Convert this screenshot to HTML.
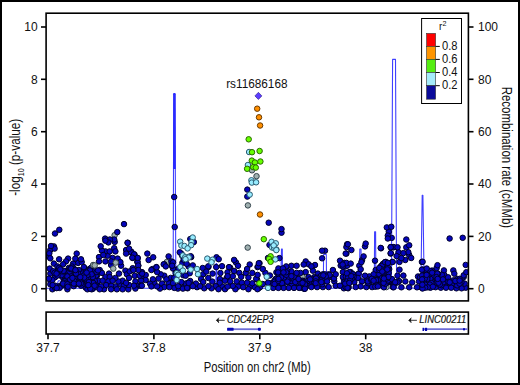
<!DOCTYPE html>
<html><head><meta charset="utf-8"><style>
html,body{margin:0;padding:0;background:#fff;}
body{width:520px;height:385px;overflow:hidden;position:relative;}
svg{position:absolute;left:0;top:0;}
text{font-family:"Liberation Sans",sans-serif;fill:#111;}
</style></head><body>
<svg width="520" height="385" viewBox="0 0 520 385">
<rect x="0" y="0" width="520" height="385" fill="#fff"/>
<!-- outer border -->
<rect x="1" y="1" width="518" height="383" fill="none" stroke="#000" stroke-width="2"/>

<!-- y axis ticks left -->
<g stroke="#000" stroke-width="1.6">
<line x1="41" y1="27" x2="46" y2="27"/>
<line x1="41" y1="79.3" x2="46" y2="79.3"/>
<line x1="41" y1="131.7" x2="46" y2="131.7"/>
<line x1="41" y1="184" x2="46" y2="184"/>
<line x1="41" y1="236.4" x2="46" y2="236.4"/>
<line x1="41" y1="288.7" x2="46" y2="288.7"/>
<line x1="468" y1="27" x2="473.5" y2="27"/>
<line x1="468" y1="79.3" x2="473.5" y2="79.3"/>
<line x1="468" y1="131.7" x2="473.5" y2="131.7"/>
<line x1="468" y1="184" x2="473.5" y2="184"/>
<line x1="468" y1="236.4" x2="473.5" y2="236.4"/>
<line x1="468" y1="288.7" x2="473.5" y2="288.7"/>
<line x1="48" y1="334" x2="48" y2="339.3"/>
<line x1="153.9" y1="334" x2="153.9" y2="339.3"/>
<line x1="259.8" y1="334" x2="259.8" y2="339.3"/>
<line x1="365.7" y1="334" x2="365.7" y2="339.3"/>
</g>
<g font-size="12" text-anchor="end">
<text x="37.6" y="31.3">10</text>
<text x="37.6" y="83.6">8</text>
<text x="37.6" y="136">6</text>
<text x="37.6" y="188.3">4</text>
<text x="37.6" y="240.7">2</text>
<text x="37.6" y="293">0</text>
</g>
<g font-size="12" text-anchor="start">
<text x="478" y="31.3">100</text>
<text x="478" y="83.6">80</text>
<text x="478" y="136">60</text>
<text x="478" y="188.3">40</text>
<text x="478" y="240.7">20</text>
<text x="478" y="293">0</text>
</g>
<g font-size="12" text-anchor="middle">
<text x="48" y="352.3">37.7</text>
<text x="153.9" y="352.3">37.8</text>
<text x="259.8" y="352.3">37.9</text>
<text x="365.7" y="352.3">38</text>
</g>
<!-- axis titles -->
<text font-size="14" text-anchor="middle" transform="translate(257.2,371.6) scale(0.805,1)">Position on chr2 (Mb)</text>
<text font-size="14.5" text-anchor="middle" transform="translate(19.6,157.3) rotate(-90) scale(0.81,1)">-log<tspan font-size="8.8" dy="4.6">10</tspan><tspan dy="-4.6"> (p-value)</tspan></text>
<text font-size="15" text-anchor="middle" transform="translate(502.2,157.4) rotate(90) scale(0.765,1)">Recombination rate (cMMb)</text>

<!-- plot content -->
<g id="plot">
<defs><clipPath id="pc"><rect x="46" y="13" width="422.3" height="288"/></clipPath></defs>
<g clip-path="url(#pc)">
<path d="M46.0 288.2 L56.0 288.2 L58.3 280.8 L60.2 280.8 L62.0 288.2 L140.0 288.2 L173.1 288.2 L173.5 169.0 L173.8 93.6 L175.0 93.6 L175.3 169.0 L175.9 288.2 L215.9 288.2 L216.1 263.6 L216.7 263.6 L216.9 288.2 L280.6 288.2 L281.5 249.0 L282.3 249.0 L282.5 288.2 L323.3 288.2 L323.6 254.5 L326.3 254.5 L326.6 288.2 L341.2 288.2 L341.5 277.0 L342.0 288.2 L359.3 288.2 L359.8 249.0 L361.0 249.0 L361.7 288.2 L374.3 288.2 L374.6 231.8 L375.6 231.8 L375.9 288.2 L391.4 288.2 L392.6 59.4 L395.5 59.4 L396.6 288.2 L420.8 288.2 L422.2 195.2 L422.9 195.2 L424.2 288.2 L468.0 288.2" fill="none" stroke="#4040ff" stroke-width="1.1" stroke-linejoin="round"/><path d="M173.0 169 L173.25 94.2 Q174.4 92.0 175.55 94.2 L175.8 169 Z" fill="#2a2aff"/>
<g fill="#9fb0b0" stroke="#34444c" stroke-width="1.0">
<circle cx="114.6" cy="235.2" r="2.75"/>
<circle cx="166.8" cy="262.0" r="2.75"/>
<circle cx="302.4" cy="276.8" r="2.75"/>
<circle cx="386.4" cy="287.1" r="2.75"/>
</g>
<g fill="#0505bc" stroke="#000028" stroke-width="1.0">
<circle cx="385.8" cy="277.9" r="2.75"/>
<circle cx="432.5" cy="278.4" r="2.75"/>
<circle cx="128.3" cy="289.3" r="2.75"/>
<circle cx="114.7" cy="241.9" r="2.75"/>
<circle cx="81.9" cy="284.7" r="2.75"/>
<circle cx="362.1" cy="260.0" r="2.75"/>
<circle cx="382.0" cy="268.7" r="2.75"/>
<circle cx="290.1" cy="282.7" r="2.75"/>
<circle cx="389.2" cy="269.1" r="2.75"/>
<circle cx="340.7" cy="265.6" r="2.75"/>
<circle cx="94.2" cy="275.3" r="2.75"/>
<circle cx="115.4" cy="286.4" r="2.75"/>
<circle cx="96.9" cy="284.2" r="2.75"/>
<circle cx="424.4" cy="278.5" r="2.75"/>
<circle cx="383.6" cy="270.7" r="2.75"/>
<circle cx="59.8" cy="273.0" r="2.75"/>
<circle cx="286.9" cy="281.9" r="2.75"/>
<circle cx="66.8" cy="271.0" r="2.75"/>
<circle cx="249.7" cy="286.6" r="2.75"/>
<circle cx="109.0" cy="273.6" r="2.75"/>
<circle cx="291.8" cy="284.3" r="2.75"/>
<circle cx="236.0" cy="262.5" r="2.75"/>
<circle cx="441.5" cy="276.6" r="2.75"/>
<circle cx="230.2" cy="267.7" r="2.75"/>
<circle cx="258.9" cy="287.9" r="2.75"/>
<circle cx="265.4" cy="272.9" r="2.75"/>
<circle cx="401.4" cy="287.3" r="2.75"/>
<circle cx="378.7" cy="277.4" r="2.75"/>
<circle cx="444.3" cy="274.8" r="2.75"/>
<circle cx="193.8" cy="242.1" r="2.75"/>
<circle cx="279.4" cy="258.1" r="2.75"/>
<circle cx="425.5" cy="281.3" r="2.75"/>
<circle cx="325.0" cy="250.7" r="2.75"/>
<circle cx="63.6" cy="275.2" r="2.75"/>
<circle cx="332.9" cy="270.0" r="2.75"/>
<circle cx="170.7" cy="277.9" r="2.75"/>
<circle cx="73.6" cy="274.9" r="2.75"/>
<circle cx="120.4" cy="284.3" r="2.75"/>
<circle cx="456.8" cy="281.7" r="2.75"/>
<circle cx="432.0" cy="270.6" r="2.75"/>
<circle cx="295.9" cy="279.2" r="2.75"/>
<circle cx="421.9" cy="261.9" r="2.75"/>
<circle cx="78.9" cy="281.4" r="2.75"/>
<circle cx="105.4" cy="277.1" r="2.75"/>
<circle cx="71.2" cy="268.8" r="2.75"/>
<circle cx="187.6" cy="283.1" r="2.75"/>
<circle cx="52.4" cy="289.3" r="2.75"/>
<circle cx="434.2" cy="277.5" r="2.75"/>
<circle cx="197.0" cy="287.2" r="2.75"/>
<circle cx="278.6" cy="277.5" r="2.75"/>
<circle cx="125.4" cy="270.7" r="2.75"/>
<circle cx="317.9" cy="273.6" r="2.75"/>
<circle cx="82.6" cy="271.1" r="2.75"/>
<circle cx="55.1" cy="277.2" r="2.75"/>
<circle cx="345.1" cy="266.6" r="2.75"/>
<circle cx="208.4" cy="267.0" r="2.75"/>
<circle cx="453.3" cy="270.4" r="2.75"/>
<circle cx="64.6" cy="272.9" r="2.75"/>
<circle cx="465.7" cy="264.9" r="2.75"/>
<circle cx="124.0" cy="224.1" r="2.75"/>
<circle cx="465.7" cy="287.7" r="2.75"/>
<circle cx="314.3" cy="277.1" r="2.75"/>
<circle cx="147.3" cy="253.6" r="2.75"/>
<circle cx="348.6" cy="287.1" r="2.75"/>
<circle cx="461.6" cy="288.3" r="2.75"/>
<circle cx="436.6" cy="268.0" r="2.75"/>
<circle cx="424.2" cy="274.8" r="2.75"/>
<circle cx="346.4" cy="253.6" r="2.75"/>
<circle cx="418.0" cy="276.5" r="2.75"/>
<circle cx="458.0" cy="282.7" r="2.75"/>
<circle cx="188.6" cy="266.4" r="2.75"/>
<circle cx="443.1" cy="281.5" r="2.75"/>
<circle cx="286.2" cy="277.5" r="2.75"/>
<circle cx="86.1" cy="269.6" r="2.75"/>
<circle cx="59.7" cy="275.1" r="2.75"/>
<circle cx="406.3" cy="239.5" r="2.75"/>
<circle cx="340.0" cy="260.7" r="2.75"/>
<circle cx="104.0" cy="289.3" r="2.75"/>
<circle cx="308.6" cy="277.1" r="2.75"/>
<circle cx="134.5" cy="254.5" r="2.75"/>
<circle cx="145.7" cy="275.0" r="2.75"/>
<circle cx="425.4" cy="280.9" r="2.75"/>
<circle cx="386.1" cy="275.8" r="2.75"/>
<circle cx="69.7" cy="276.7" r="2.75"/>
<circle cx="369.4" cy="283.1" r="2.75"/>
<circle cx="440.3" cy="276.6" r="2.75"/>
<circle cx="428.1" cy="272.4" r="2.75"/>
<circle cx="52.8" cy="272.3" r="2.75"/>
<circle cx="382.9" cy="285.7" r="2.75"/>
<circle cx="421.0" cy="287.2" r="2.75"/>
<circle cx="385.8" cy="261.9" r="2.75"/>
<circle cx="99.0" cy="257.1" r="2.75"/>
<circle cx="81.2" cy="279.0" r="2.75"/>
<circle cx="182.4" cy="262.8" r="2.75"/>
<circle cx="112.6" cy="257.9" r="2.75"/>
<circle cx="76.1" cy="283.0" r="2.75"/>
<circle cx="164.3" cy="275.7" r="2.75"/>
<circle cx="425.1" cy="270.0" r="2.75"/>
<circle cx="443.9" cy="270.4" r="2.75"/>
<circle cx="365.0" cy="246.4" r="2.75"/>
<circle cx="426.8" cy="270.7" r="2.75"/>
<circle cx="347.1" cy="244.3" r="2.75"/>
<circle cx="160.7" cy="274.3" r="2.75"/>
<circle cx="73.7" cy="286.2" r="2.75"/>
<circle cx="216.5" cy="257.3" r="2.75"/>
<circle cx="369.3" cy="276.4" r="2.75"/>
<circle cx="78.9" cy="270.0" r="2.75"/>
<circle cx="385.4" cy="280.4" r="2.75"/>
<circle cx="409.2" cy="255.1" r="2.75"/>
<circle cx="393.6" cy="247.3" r="2.75"/>
<circle cx="272.0" cy="283.0" r="2.75"/>
<circle cx="302.7" cy="280.7" r="2.75"/>
<circle cx="254.9" cy="287.2" r="2.75"/>
<circle cx="107.6" cy="255.7" r="2.75"/>
<circle cx="389.8" cy="282.2" r="2.75"/>
<circle cx="252.3" cy="272.9" r="2.75"/>
<circle cx="423.6" cy="281.9" r="2.75"/>
<circle cx="386.4" cy="272.9" r="2.75"/>
<circle cx="291.2" cy="281.0" r="2.75"/>
<circle cx="281.5" cy="232.7" r="2.75"/>
<circle cx="353.6" cy="274.5" r="2.75"/>
<circle cx="50.3" cy="250.0" r="2.75"/>
<circle cx="134.7" cy="275.7" r="2.75"/>
<circle cx="247.3" cy="196.6" r="2.75"/>
<circle cx="78.5" cy="279.3" r="2.75"/>
<circle cx="366.8" cy="279.0" r="2.75"/>
<circle cx="98.3" cy="280.7" r="2.75"/>
<circle cx="126.1" cy="250.0" r="2.75"/>
<circle cx="350.7" cy="272.1" r="2.75"/>
<circle cx="238.0" cy="286.6" r="2.75"/>
<circle cx="50.3" cy="273.6" r="2.75"/>
<circle cx="171.4" cy="261.4" r="2.75"/>
<circle cx="284.4" cy="277.2" r="2.75"/>
<circle cx="281.5" cy="229.1" r="2.75"/>
<circle cx="358.6" cy="273.6" r="2.75"/>
<circle cx="408.3" cy="252.2" r="2.75"/>
<circle cx="441.8" cy="283.1" r="2.75"/>
<circle cx="215.9" cy="286.6" r="2.75"/>
<circle cx="127.7" cy="242.7" r="2.75"/>
<circle cx="141.4" cy="277.9" r="2.75"/>
<circle cx="449.3" cy="282.6" r="2.75"/>
<circle cx="218.7" cy="259.2" r="2.75"/>
<circle cx="235.4" cy="289.2" r="2.75"/>
<circle cx="268.0" cy="282.7" r="2.75"/>
<circle cx="424.8" cy="286.3" r="2.75"/>
<circle cx="363.6" cy="256.4" r="2.75"/>
<circle cx="203.2" cy="274.2" r="2.75"/>
<circle cx="132.6" cy="257.9" r="2.75"/>
<circle cx="349.7" cy="278.4" r="2.75"/>
<circle cx="347.1" cy="265.7" r="2.75"/>
<circle cx="312.9" cy="270.7" r="2.75"/>
<circle cx="83.1" cy="282.9" r="2.75"/>
<circle cx="457.4" cy="278.9" r="2.75"/>
<circle cx="375.7" cy="270.0" r="2.75"/>
<circle cx="430.4" cy="287.7" r="2.75"/>
<circle cx="381.7" cy="275.4" r="2.75"/>
<circle cx="145.7" cy="280.0" r="2.75"/>
<circle cx="93.9" cy="277.1" r="2.75"/>
<circle cx="429.4" cy="272.7" r="2.75"/>
<circle cx="434.0" cy="283.0" r="2.75"/>
<circle cx="440.8" cy="287.7" r="2.75"/>
<circle cx="296.6" cy="279.6" r="2.75"/>
<circle cx="114.2" cy="239.5" r="2.75"/>
<circle cx="463.7" cy="277.1" r="2.75"/>
<circle cx="141.1" cy="280.7" r="2.75"/>
<circle cx="74.4" cy="279.0" r="2.75"/>
<circle cx="91.7" cy="286.9" r="2.75"/>
<circle cx="152.3" cy="269.1" r="2.75"/>
<circle cx="347.2" cy="279.9" r="2.75"/>
<circle cx="342.9" cy="272.1" r="2.75"/>
<circle cx="91.3" cy="282.4" r="2.75"/>
<circle cx="105.4" cy="251.4" r="2.75"/>
<circle cx="317.4" cy="279.3" r="2.75"/>
<circle cx="68.1" cy="258.6" r="2.75"/>
<circle cx="399.5" cy="269.7" r="2.75"/>
<circle cx="85.3" cy="285.7" r="2.75"/>
<circle cx="347.9" cy="287.1" r="2.75"/>
<circle cx="182.4" cy="256.0" r="2.75"/>
<circle cx="346.5" cy="282.8" r="2.75"/>
<circle cx="327.3" cy="277.4" r="2.75"/>
<circle cx="239.3" cy="272.9" r="2.75"/>
<circle cx="296.6" cy="277.5" r="2.75"/>
<circle cx="334.3" cy="281.4" r="2.75"/>
<circle cx="109.7" cy="277.1" r="2.75"/>
<circle cx="388.8" cy="231.7" r="2.75"/>
<circle cx="117.6" cy="258.6" r="2.75"/>
<circle cx="232.8" cy="285.9" r="2.75"/>
<circle cx="111.1" cy="285.7" r="2.75"/>
<circle cx="75.8" cy="276.0" r="2.75"/>
<circle cx="73.8" cy="279.4" r="2.75"/>
<circle cx="168.6" cy="282.9" r="2.75"/>
<circle cx="66.0" cy="261.4" r="2.75"/>
<circle cx="290.3" cy="278.4" r="2.75"/>
<circle cx="245.8" cy="272.9" r="2.75"/>
<circle cx="439.8" cy="278.6" r="2.75"/>
<circle cx="89.5" cy="269.0" r="2.75"/>
<circle cx="304.2" cy="288.7" r="2.75"/>
<circle cx="405.3" cy="260.0" r="2.75"/>
<circle cx="309.2" cy="283.4" r="2.75"/>
<circle cx="305.7" cy="287.1" r="2.75"/>
<circle cx="57.2" cy="273.5" r="2.75"/>
<circle cx="311.9" cy="282.0" r="2.75"/>
<circle cx="219.9" cy="279.0" r="2.75"/>
<circle cx="92.9" cy="288.7" r="2.75"/>
<circle cx="222.4" cy="286.6" r="2.75"/>
<circle cx="201.1" cy="278.9" r="2.75"/>
<circle cx="69.9" cy="277.4" r="2.75"/>
<circle cx="121.1" cy="265.7" r="2.75"/>
<circle cx="62.4" cy="277.1" r="2.75"/>
<circle cx="343.6" cy="278.5" r="2.75"/>
<circle cx="156.4" cy="267.1" r="2.75"/>
<circle cx="129.0" cy="285.0" r="2.75"/>
<circle cx="391.7" cy="282.4" r="2.75"/>
<circle cx="284.0" cy="280.0" r="2.75"/>
<circle cx="435.6" cy="274.8" r="2.75"/>
<circle cx="431.7" cy="281.0" r="2.75"/>
<circle cx="80.6" cy="279.0" r="2.75"/>
<circle cx="331.4" cy="277.1" r="2.75"/>
<circle cx="268.7" cy="222.7" r="2.75"/>
<circle cx="68.9" cy="281.4" r="2.75"/>
<circle cx="381.1" cy="266.0" r="2.75"/>
<circle cx="447.0" cy="283.1" r="2.75"/>
<circle cx="76.0" cy="284.0" r="2.75"/>
<circle cx="78.1" cy="262.9" r="2.75"/>
<circle cx="427.3" cy="276.3" r="2.75"/>
<circle cx="440.8" cy="279.4" r="2.75"/>
<circle cx="286.2" cy="274.5" r="2.75"/>
<circle cx="366.4" cy="287.1" r="2.75"/>
<circle cx="314.7" cy="282.9" r="2.75"/>
<circle cx="345.7" cy="277.9" r="2.75"/>
<circle cx="135.4" cy="281.4" r="2.75"/>
<circle cx="226.6" cy="278.0" r="2.75"/>
<circle cx="387.5" cy="269.1" r="2.75"/>
<circle cx="281.0" cy="272.9" r="2.75"/>
<circle cx="68.5" cy="281.9" r="2.75"/>
<circle cx="131.4" cy="251.8" r="2.75"/>
<circle cx="342.9" cy="276.9" r="2.75"/>
<circle cx="390.7" cy="253.6" r="2.75"/>
<circle cx="138.3" cy="285.7" r="2.75"/>
<circle cx="378.2" cy="283.9" r="2.75"/>
<circle cx="362.1" cy="281.4" r="2.75"/>
<circle cx="81.7" cy="262.1" r="2.75"/>
<circle cx="348.1" cy="280.0" r="2.75"/>
<circle cx="302.0" cy="284.9" r="2.75"/>
<circle cx="429.3" cy="284.4" r="2.75"/>
<circle cx="88.6" cy="279.7" r="2.75"/>
<circle cx="348.6" cy="275.0" r="2.75"/>
<circle cx="333.8" cy="278.5" r="2.75"/>
<circle cx="157.1" cy="272.1" r="2.75"/>
<circle cx="189.7" cy="273.2" r="2.75"/>
<circle cx="449.6" cy="283.6" r="2.75"/>
<circle cx="273.2" cy="287.9" r="2.75"/>
<circle cx="73.1" cy="263.6" r="2.75"/>
<circle cx="225.0" cy="289.2" r="2.75"/>
<circle cx="385.6" cy="275.0" r="2.75"/>
<circle cx="421.7" cy="277.6" r="2.75"/>
<circle cx="64.2" cy="280.8" r="2.75"/>
<circle cx="441.8" cy="274.8" r="2.75"/>
<circle cx="384.9" cy="276.3" r="2.75"/>
<circle cx="305.7" cy="261.4" r="2.75"/>
<circle cx="195.9" cy="283.6" r="2.75"/>
<circle cx="95.0" cy="273.0" r="2.75"/>
<circle cx="86.2" cy="281.0" r="2.75"/>
<circle cx="48.7" cy="256.5" r="2.75"/>
<circle cx="428.8" cy="285.5" r="2.75"/>
<circle cx="181.4" cy="253.8" r="2.75"/>
<circle cx="426.3" cy="285.2" r="2.75"/>
<circle cx="93.3" cy="271.8" r="2.75"/>
<circle cx="435.6" cy="278.1" r="2.75"/>
<circle cx="384.0" cy="273.3" r="2.75"/>
<circle cx="137.7" cy="258.2" r="2.75"/>
<circle cx="172.9" cy="281.4" r="2.75"/>
<circle cx="443.9" cy="281.1" r="2.75"/>
<circle cx="89.1" cy="274.7" r="2.75"/>
<circle cx="373.6" cy="274.3" r="2.75"/>
<circle cx="68.9" cy="267.9" r="2.75"/>
<circle cx="426.2" cy="283.1" r="2.75"/>
<circle cx="461.6" cy="278.9" r="2.75"/>
<circle cx="322.9" cy="274.3" r="2.75"/>
<circle cx="227.5" cy="272.3" r="2.75"/>
<circle cx="291.0" cy="273.8" r="2.75"/>
<circle cx="219.8" cy="282.7" r="2.75"/>
<circle cx="375.8" cy="282.4" r="2.75"/>
<circle cx="173.0" cy="268.5" r="2.75"/>
<circle cx="116.9" cy="289.3" r="2.75"/>
<circle cx="85.7" cy="287.7" r="2.75"/>
<circle cx="344.3" cy="262.9" r="2.75"/>
<circle cx="63.1" cy="264.3" r="2.75"/>
<circle cx="59.3" cy="229.8" r="2.75"/>
<circle cx="310.0" cy="281.4" r="2.75"/>
<circle cx="58.1" cy="268.8" r="2.75"/>
<circle cx="291.4" cy="265.8" r="2.75"/>
<circle cx="230.2" cy="281.4" r="2.75"/>
<circle cx="135.4" cy="288.6" r="2.75"/>
<circle cx="393.6" cy="247.1" r="2.75"/>
<circle cx="131.1" cy="252.1" r="2.75"/>
<circle cx="96.9" cy="275.7" r="2.75"/>
<circle cx="322.9" cy="287.1" r="2.75"/>
<circle cx="71.9" cy="277.7" r="2.75"/>
<circle cx="421.9" cy="281.0" r="2.75"/>
<circle cx="297.6" cy="283.2" r="2.75"/>
<circle cx="348.3" cy="279.1" r="2.75"/>
<circle cx="71.9" cy="266.5" r="2.75"/>
<circle cx="392.1" cy="262.1" r="2.75"/>
<circle cx="464.7" cy="283.6" r="2.75"/>
<circle cx="456.4" cy="288.3" r="2.75"/>
<circle cx="304.4" cy="281.4" r="2.75"/>
<circle cx="93.1" cy="275.4" r="2.75"/>
<circle cx="94.8" cy="280.9" r="2.75"/>
<circle cx="421.3" cy="281.7" r="2.75"/>
<circle cx="345.8" cy="276.7" r="2.75"/>
<circle cx="269.5" cy="244.9" r="2.75"/>
<circle cx="409.2" cy="287.3" r="2.75"/>
<circle cx="208.3" cy="266.3" r="2.75"/>
<circle cx="203.2" cy="282.0" r="2.75"/>
<circle cx="162.1" cy="283.6" r="2.75"/>
<circle cx="434.0" cy="276.4" r="2.75"/>
<circle cx="93.0" cy="283.4" r="2.75"/>
<circle cx="81.0" cy="285.7" r="2.75"/>
<circle cx="292.5" cy="278.3" r="2.75"/>
<circle cx="91.6" cy="285.1" r="2.75"/>
<circle cx="70.7" cy="282.7" r="2.75"/>
<circle cx="59.4" cy="271.1" r="2.75"/>
<circle cx="134.0" cy="285.7" r="2.75"/>
<circle cx="304.6" cy="284.3" r="2.75"/>
<circle cx="171.8" cy="265.6" r="2.75"/>
<circle cx="391.7" cy="237.9" r="2.75"/>
<circle cx="403.4" cy="275.6" r="2.75"/>
<circle cx="435.6" cy="287.2" r="2.75"/>
<circle cx="84.7" cy="283.9" r="2.75"/>
<circle cx="93.9" cy="272.7" r="2.75"/>
<circle cx="126.9" cy="274.3" r="2.75"/>
<circle cx="241.2" cy="276.8" r="2.75"/>
<circle cx="291.4" cy="271.6" r="2.75"/>
<circle cx="96.9" cy="285.7" r="2.75"/>
<circle cx="257.0" cy="279.4" r="2.75"/>
<circle cx="138.3" cy="265.7" r="2.75"/>
<circle cx="234.1" cy="259.9" r="2.75"/>
<circle cx="349.3" cy="272.1" r="2.75"/>
<circle cx="122.6" cy="280.7" r="2.75"/>
<circle cx="96.8" cy="287.0" r="2.75"/>
<circle cx="347.9" cy="277.9" r="2.75"/>
<circle cx="124.0" cy="285.7" r="2.75"/>
<circle cx="84.9" cy="274.2" r="2.75"/>
<circle cx="278.5" cy="276.1" r="2.75"/>
<circle cx="383.7" cy="273.7" r="2.75"/>
<circle cx="118.3" cy="281.4" r="2.75"/>
<circle cx="276.4" cy="272.3" r="2.75"/>
<circle cx="166.4" cy="279.3" r="2.75"/>
<circle cx="431.4" cy="280.8" r="2.75"/>
<circle cx="89.8" cy="280.3" r="2.75"/>
<circle cx="101.9" cy="250.7" r="2.75"/>
<circle cx="111.1" cy="289.3" r="2.75"/>
<circle cx="422.6" cy="269.6" r="2.75"/>
<circle cx="49.3" cy="253.3" r="2.75"/>
<circle cx="99.0" cy="261.4" r="2.75"/>
<circle cx="438.0" cy="273.6" r="2.75"/>
<circle cx="305.7" cy="272.1" r="2.75"/>
<circle cx="381.0" cy="248.3" r="2.75"/>
<circle cx="82.4" cy="273.6" r="2.75"/>
<circle cx="53.9" cy="263.6" r="2.75"/>
<circle cx="376.7" cy="284.9" r="2.75"/>
<circle cx="63.6" cy="283.0" r="2.75"/>
<circle cx="177.9" cy="288.6" r="2.75"/>
<circle cx="437.5" cy="265.2" r="2.75"/>
<circle cx="382.9" cy="263.9" r="2.75"/>
<circle cx="423.1" cy="286.8" r="2.75"/>
<circle cx="311.4" cy="287.1" r="2.75"/>
<circle cx="303.6" cy="282.1" r="2.75"/>
<circle cx="436.6" cy="283.1" r="2.75"/>
<circle cx="90.3" cy="277.9" r="2.75"/>
<circle cx="448.1" cy="277.3" r="2.75"/>
<circle cx="380.0" cy="276.6" r="2.75"/>
<circle cx="347.1" cy="282.1" r="2.75"/>
<circle cx="49.6" cy="268.6" r="2.75"/>
<circle cx="303.7" cy="287.9" r="2.75"/>
<circle cx="62.5" cy="273.5" r="2.75"/>
<circle cx="55.1" cy="287.9" r="2.75"/>
<circle cx="382.6" cy="281.3" r="2.75"/>
<circle cx="451.2" cy="282.0" r="2.75"/>
<circle cx="284.3" cy="278.2" r="2.75"/>
<circle cx="173.0" cy="262.3" r="2.75"/>
<circle cx="406.3" cy="247.3" r="2.75"/>
<circle cx="87.4" cy="289.3" r="2.75"/>
<circle cx="383.9" cy="287.3" r="2.75"/>
<circle cx="60.3" cy="285.7" r="2.75"/>
<circle cx="386.8" cy="227.4" r="2.75"/>
<circle cx="303.4" cy="284.0" r="2.75"/>
<circle cx="359.3" cy="265.7" r="2.75"/>
<circle cx="183.4" cy="287.2" r="2.75"/>
<circle cx="375.0" cy="260.7" r="2.75"/>
<circle cx="390.7" cy="247.1" r="2.75"/>
<circle cx="398.5" cy="252.2" r="2.75"/>
<circle cx="115.4" cy="277.9" r="2.75"/>
<circle cx="420.3" cy="278.7" r="2.75"/>
<circle cx="238.0" cy="265.8" r="2.75"/>
<circle cx="301.5" cy="281.7" r="2.75"/>
<circle cx="430.3" cy="278.8" r="2.75"/>
<circle cx="426.9" cy="280.7" r="2.75"/>
<circle cx="134.0" cy="254.3" r="2.75"/>
<circle cx="190.2" cy="281.0" r="2.75"/>
<circle cx="95.8" cy="275.1" r="2.75"/>
<circle cx="368.1" cy="283.2" r="2.75"/>
<circle cx="381.2" cy="275.5" r="2.75"/>
<circle cx="383.4" cy="273.6" r="2.75"/>
<circle cx="53.2" cy="271.2" r="2.75"/>
<circle cx="186.6" cy="263.8" r="2.75"/>
<circle cx="108.3" cy="281.4" r="2.75"/>
<circle cx="259.5" cy="263.2" r="2.75"/>
<circle cx="77.6" cy="282.9" r="2.75"/>
<circle cx="191.2" cy="257.1" r="2.75"/>
<circle cx="283.6" cy="287.9" r="2.75"/>
<circle cx="137.3" cy="261.8" r="2.75"/>
<circle cx="346.4" cy="262.9" r="2.75"/>
<circle cx="388.7" cy="272.9" r="2.75"/>
<circle cx="248.4" cy="289.2" r="2.75"/>
<circle cx="384.0" cy="267.0" r="2.75"/>
<circle cx="278.4" cy="268.4" r="2.75"/>
<circle cx="307.2" cy="281.2" r="2.75"/>
<circle cx="90.3" cy="287.1" r="2.75"/>
<circle cx="164.3" cy="264.3" r="2.75"/>
<circle cx="322.1" cy="258.3" r="2.75"/>
<circle cx="91.0" cy="267.9" r="2.75"/>
<circle cx="345.7" cy="253.6" r="2.75"/>
<circle cx="343.9" cy="288.3" r="2.75"/>
<circle cx="229.0" cy="267.1" r="2.75"/>
<circle cx="390.7" cy="253.1" r="2.75"/>
<circle cx="91.0" cy="288.7" r="2.75"/>
<circle cx="87.8" cy="277.7" r="2.75"/>
<circle cx="299.4" cy="281.0" r="2.75"/>
<circle cx="313.7" cy="281.4" r="2.75"/>
<circle cx="60.6" cy="274.7" r="2.75"/>
<circle cx="301.5" cy="287.7" r="2.75"/>
<circle cx="154.3" cy="282.9" r="2.75"/>
<circle cx="88.3" cy="278.7" r="2.75"/>
<circle cx="278.4" cy="274.0" r="2.75"/>
<circle cx="236.7" cy="281.4" r="2.75"/>
<circle cx="174.2" cy="197.0" r="2.75"/>
<circle cx="57.4" cy="266.4" r="2.75"/>
<circle cx="344.3" cy="282.2" r="2.75"/>
<circle cx="220.4" cy="273.0" r="2.75"/>
<circle cx="59.2" cy="267.8" r="2.75"/>
<circle cx="215.7" cy="286.2" r="2.75"/>
<circle cx="446.0" cy="287.7" r="2.75"/>
<circle cx="105.4" cy="261.4" r="2.75"/>
<circle cx="431.4" cy="283.1" r="2.75"/>
<circle cx="247.3" cy="189.6" r="2.75"/>
<circle cx="289.0" cy="277.6" r="2.75"/>
<circle cx="411.2" cy="258.0" r="2.75"/>
<circle cx="129.7" cy="271.4" r="2.75"/>
<circle cx="391.3" cy="226.8" r="2.75"/>
<circle cx="381.4" cy="274.4" r="2.75"/>
<circle cx="275.7" cy="281.1" r="2.75"/>
<circle cx="417.0" cy="287.3" r="2.75"/>
<circle cx="354.3" cy="282.1" r="2.75"/>
<circle cx="342.9" cy="266.4" r="2.75"/>
<circle cx="300.5" cy="272.9" r="2.75"/>
<circle cx="320.0" cy="277.9" r="2.75"/>
<circle cx="297.2" cy="282.9" r="2.75"/>
<circle cx="63.3" cy="275.2" r="2.75"/>
<circle cx="284.9" cy="282.7" r="2.75"/>
<circle cx="441.5" cy="285.2" r="2.75"/>
<circle cx="93.9" cy="270.7" r="2.75"/>
<circle cx="148.6" cy="260.0" r="2.75"/>
<circle cx="249.7" cy="264.5" r="2.75"/>
<circle cx="430.4" cy="271.1" r="2.75"/>
<circle cx="392.1" cy="282.1" r="2.75"/>
<circle cx="71.4" cy="269.9" r="2.75"/>
<circle cx="429.8" cy="284.6" r="2.75"/>
<circle cx="425.2" cy="284.7" r="2.75"/>
<circle cx="405.3" cy="281.4" r="2.75"/>
<circle cx="50.6" cy="281.4" r="2.75"/>
<circle cx="438.6" cy="283.9" r="2.75"/>
<circle cx="351.4" cy="250.0" r="2.75"/>
<circle cx="96.1" cy="275.5" r="2.75"/>
<circle cx="443.7" cy="282.2" r="2.75"/>
<circle cx="384.8" cy="278.7" r="2.75"/>
<circle cx="61.2" cy="274.4" r="2.75"/>
<circle cx="412.2" cy="282.4" r="2.75"/>
<circle cx="320.9" cy="276.0" r="2.75"/>
<circle cx="427.8" cy="287.3" r="2.75"/>
<circle cx="321.1" cy="279.7" r="2.75"/>
<circle cx="353.0" cy="274.3" r="2.75"/>
<circle cx="158.6" cy="278.6" r="2.75"/>
<circle cx="109.9" cy="239.5" r="2.75"/>
<circle cx="432.9" cy="286.7" r="2.75"/>
<circle cx="232.8" cy="276.2" r="2.75"/>
<circle cx="77.9" cy="273.4" r="2.75"/>
<circle cx="92.9" cy="273.3" r="2.75"/>
<circle cx="419.0" cy="281.4" r="2.75"/>
<circle cx="275.8" cy="278.8" r="2.75"/>
<circle cx="212.3" cy="281.6" r="2.75"/>
<circle cx="69.7" cy="273.9" r="2.75"/>
<circle cx="91.8" cy="282.5" r="2.75"/>
<circle cx="421.9" cy="269.7" r="2.75"/>
<circle cx="379.3" cy="274.3" r="2.75"/>
<circle cx="300.5" cy="282.7" r="2.75"/>
<circle cx="451.9" cy="283.8" r="2.75"/>
<circle cx="287.4" cy="281.6" r="2.75"/>
<circle cx="88.1" cy="270.7" r="2.75"/>
<circle cx="50.3" cy="258.3" r="2.75"/>
<circle cx="71.7" cy="281.9" r="2.75"/>
<circle cx="380.2" cy="268.9" r="2.75"/>
<circle cx="420.1" cy="277.3" r="2.75"/>
<circle cx="187.6" cy="288.3" r="2.75"/>
<circle cx="140.7" cy="285.7" r="2.75"/>
<circle cx="396.6" cy="256.1" r="2.75"/>
<circle cx="268.0" cy="258.0" r="2.75"/>
<circle cx="163.7" cy="264.3" r="2.75"/>
<circle cx="64.6" cy="281.4" r="2.75"/>
<circle cx="317.0" cy="277.8" r="2.75"/>
<circle cx="141.9" cy="272.1" r="2.75"/>
<circle cx="372.1" cy="287.1" r="2.75"/>
<circle cx="153.2" cy="257.3" r="2.75"/>
<circle cx="409.2" cy="245.3" r="2.75"/>
<circle cx="88.9" cy="273.5" r="2.75"/>
<circle cx="89.9" cy="270.4" r="2.75"/>
<circle cx="425.6" cy="276.5" r="2.75"/>
<circle cx="360.7" cy="269.3" r="2.75"/>
<circle cx="178.6" cy="268.6" r="2.75"/>
<circle cx="321.7" cy="280.2" r="2.75"/>
<circle cx="83.9" cy="267.1" r="2.75"/>
<circle cx="66.3" cy="285.7" r="2.75"/>
<circle cx="367.9" cy="281.4" r="2.75"/>
<circle cx="305.1" cy="283.4" r="2.75"/>
<circle cx="95.1" cy="272.2" r="2.75"/>
<circle cx="50.3" cy="284.3" r="2.75"/>
<circle cx="346.8" cy="281.5" r="2.75"/>
<circle cx="437.3" cy="273.6" r="2.75"/>
<circle cx="208.3" cy="278.0" r="2.75"/>
<circle cx="382.1" cy="277.9" r="2.75"/>
<circle cx="260.0" cy="287.2" r="2.75"/>
<circle cx="387.9" cy="267.1" r="2.75"/>
<circle cx="172.1" cy="265.7" r="2.75"/>
<circle cx="103.3" cy="255.0" r="2.75"/>
<circle cx="132.7" cy="268.2" r="2.75"/>
<circle cx="382.1" cy="265.7" r="2.75"/>
<circle cx="137.6" cy="262.1" r="2.75"/>
<circle cx="61.5" cy="275.2" r="2.75"/>
<circle cx="426.7" cy="268.5" r="2.75"/>
<circle cx="463.7" cy="275.3" r="2.75"/>
<circle cx="371.2" cy="279.8" r="2.75"/>
<circle cx="379.2" cy="269.9" r="2.75"/>
<circle cx="64.8" cy="281.4" r="2.75"/>
<circle cx="100.7" cy="246.3" r="2.75"/>
<circle cx="348.1" cy="288.3" r="2.75"/>
<circle cx="439.9" cy="284.5" r="2.75"/>
<circle cx="335.7" cy="285.7" r="2.75"/>
<circle cx="357.9" cy="277.9" r="2.75"/>
<circle cx="277.8" cy="280.9" r="2.75"/>
<circle cx="81.0" cy="259.3" r="2.75"/>
<circle cx="334.0" cy="278.4" r="2.75"/>
<circle cx="74.6" cy="278.6" r="2.75"/>
<circle cx="256.2" cy="278.8" r="2.75"/>
<circle cx="190.3" cy="239.0" r="2.75"/>
<circle cx="52.4" cy="280.0" r="2.75"/>
<circle cx="141.9" cy="285.7" r="2.75"/>
<circle cx="308.6" cy="264.3" r="2.75"/>
<circle cx="317.1" cy="287.1" r="2.75"/>
<circle cx="448.3" cy="281.8" r="2.75"/>
<circle cx="183.4" cy="275.3" r="2.75"/>
<circle cx="328.6" cy="274.3" r="2.75"/>
<circle cx="95.4" cy="270.7" r="2.75"/>
<circle cx="393.7" cy="283.2" r="2.75"/>
<circle cx="87.0" cy="281.8" r="2.75"/>
<circle cx="74.2" cy="280.9" r="2.75"/>
<circle cx="150.0" cy="283.6" r="2.75"/>
<circle cx="278.1" cy="272.4" r="2.75"/>
<circle cx="90.2" cy="282.4" r="2.75"/>
<circle cx="108.4" cy="242.4" r="2.75"/>
<circle cx="391.8" cy="280.1" r="2.75"/>
<circle cx="182.9" cy="288.6" r="2.75"/>
<circle cx="93.1" cy="282.9" r="2.75"/>
<circle cx="129.0" cy="277.9" r="2.75"/>
<circle cx="461.4" cy="282.2" r="2.75"/>
<circle cx="287.1" cy="270.5" r="2.75"/>
<circle cx="346.9" cy="273.3" r="2.75"/>
<circle cx="305.0" cy="284.6" r="2.75"/>
<circle cx="399.5" cy="261.9" r="2.75"/>
<circle cx="92.8" cy="277.1" r="2.75"/>
<circle cx="422.1" cy="275.5" r="2.75"/>
<circle cx="53.9" cy="246.4" r="2.75"/>
<circle cx="111.1" cy="265.0" r="2.75"/>
<circle cx="67.4" cy="276.4" r="2.75"/>
<circle cx="342.6" cy="264.6" r="2.75"/>
<circle cx="120.4" cy="262.1" r="2.75"/>
<circle cx="385.5" cy="283.9" r="2.75"/>
<circle cx="459.6" cy="278.8" r="2.75"/>
<circle cx="425.2" cy="287.7" r="2.75"/>
<circle cx="80.8" cy="283.4" r="2.75"/>
<circle cx="294.0" cy="276.6" r="2.75"/>
<circle cx="390.7" cy="280.5" r="2.75"/>
<circle cx="62.1" cy="271.4" r="2.75"/>
<circle cx="294.0" cy="287.9" r="2.75"/>
<circle cx="174.3" cy="287.9" r="2.75"/>
<circle cx="65.1" cy="283.3" r="2.75"/>
<circle cx="212.6" cy="273.6" r="2.75"/>
<circle cx="138.2" cy="265.5" r="2.75"/>
<circle cx="277.4" cy="283.4" r="2.75"/>
<circle cx="257.5" cy="267.1" r="2.75"/>
<circle cx="164.3" cy="287.1" r="2.75"/>
<circle cx="371.8" cy="278.8" r="2.75"/>
<circle cx="397.5" cy="247.3" r="2.75"/>
<circle cx="174.7" cy="227.0" r="2.75"/>
<circle cx="241.9" cy="282.7" r="2.75"/>
<circle cx="248.4" cy="277.5" r="2.75"/>
<circle cx="329.6" cy="275.0" r="2.75"/>
<circle cx="243.2" cy="287.2" r="2.75"/>
<circle cx="82.2" cy="276.6" r="2.75"/>
<circle cx="322.3" cy="284.3" r="2.75"/>
<circle cx="62.1" cy="285.4" r="2.75"/>
<circle cx="262.8" cy="269.0" r="2.75"/>
<circle cx="139.7" cy="275.7" r="2.75"/>
<circle cx="63.6" cy="270.8" r="2.75"/>
<circle cx="457.4" cy="281.0" r="2.75"/>
<circle cx="314.0" cy="279.0" r="2.75"/>
<circle cx="377.9" cy="280.0" r="2.75"/>
<circle cx="106.1" cy="285.0" r="2.75"/>
<circle cx="276.5" cy="282.8" r="2.75"/>
<circle cx="152.9" cy="279.3" r="2.75"/>
<circle cx="324.8" cy="274.3" r="2.75"/>
<circle cx="428.3" cy="275.3" r="2.75"/>
<circle cx="360.7" cy="286.4" r="2.75"/>
<circle cx="137.6" cy="257.9" r="2.75"/>
<circle cx="183.7" cy="259.7" r="2.75"/>
<circle cx="109.7" cy="251.4" r="2.75"/>
<circle cx="375.5" cy="280.0" r="2.75"/>
<circle cx="105.1" cy="238.6" r="2.75"/>
<circle cx="99.7" cy="270.0" r="2.75"/>
<circle cx="392.9" cy="287.1" r="2.75"/>
<circle cx="168.6" cy="256.4" r="2.75"/>
<circle cx="288.8" cy="287.9" r="2.75"/>
<circle cx="75.7" cy="271.5" r="2.75"/>
<circle cx="85.3" cy="273.9" r="2.75"/>
<circle cx="454.3" cy="273.7" r="2.75"/>
<circle cx="422.8" cy="279.2" r="2.75"/>
<circle cx="277.1" cy="282.5" r="2.75"/>
<circle cx="353.6" cy="277.1" r="2.75"/>
<circle cx="316.0" cy="278.4" r="2.75"/>
<circle cx="156.4" cy="267.3" r="2.75"/>
<circle cx="385.0" cy="262.1" r="2.75"/>
<circle cx="390.5" cy="280.1" r="2.75"/>
<circle cx="451.2" cy="287.7" r="2.75"/>
<circle cx="323.2" cy="281.3" r="2.75"/>
<circle cx="351.9" cy="278.5" r="2.75"/>
<circle cx="315.7" cy="281.4" r="2.75"/>
<circle cx="427.0" cy="276.6" r="2.75"/>
<circle cx="295.3" cy="282.0" r="2.75"/>
<circle cx="299.2" cy="287.9" r="2.75"/>
<circle cx="211.5" cy="288.3" r="2.75"/>
<circle cx="87.4" cy="285.1" r="2.75"/>
<circle cx="132.3" cy="257.7" r="2.75"/>
<circle cx="296.6" cy="265.8" r="2.75"/>
<circle cx="59.1" cy="259.3" r="2.75"/>
<circle cx="151.4" cy="286.4" r="2.75"/>
<circle cx="442.9" cy="279.4" r="2.75"/>
<circle cx="101.1" cy="286.4" r="2.75"/>
<circle cx="427.3" cy="278.9" r="2.75"/>
<circle cx="387.8" cy="235.6" r="2.75"/>
<circle cx="438.5" cy="282.7" r="2.75"/>
<circle cx="361.4" cy="262.1" r="2.75"/>
<circle cx="383.4" cy="280.8" r="2.75"/>
<circle cx="459.5" cy="281.0" r="2.75"/>
<circle cx="101.9" cy="272.9" r="2.75"/>
<circle cx="204.2" cy="288.3" r="2.75"/>
<circle cx="384.1" cy="277.7" r="2.75"/>
<circle cx="91.7" cy="289.3" r="2.75"/>
<circle cx="274.4" cy="280.7" r="2.75"/>
<circle cx="388.0" cy="280.5" r="2.75"/>
<circle cx="54.6" cy="248.6" r="2.75"/>
<circle cx="262.8" cy="284.0" r="2.75"/>
<circle cx="257.5" cy="289.2" r="2.75"/>
<circle cx="279.7" cy="282.7" r="2.75"/>
<circle cx="252.3" cy="283.3" r="2.75"/>
<circle cx="48.9" cy="278.6" r="2.75"/>
<circle cx="90.3" cy="288.7" r="2.75"/>
<circle cx="346.4" cy="247.1" r="2.75"/>
<circle cx="218.5" cy="289.2" r="2.75"/>
<circle cx="395.6" cy="282.8" r="2.75"/>
<circle cx="315.0" cy="265.0" r="2.75"/>
<circle cx="88.1" cy="284.5" r="2.75"/>
<circle cx="304.4" cy="288.7" r="2.75"/>
<circle cx="175.7" cy="272.9" r="2.75"/>
<circle cx="422.5" cy="288.5" r="2.75"/>
<circle cx="59.6" cy="287.9" r="2.75"/>
<circle cx="67.4" cy="289.3" r="2.75"/>
<circle cx="424.8" cy="278.5" r="2.75"/>
<circle cx="91.7" cy="274.3" r="2.75"/>
<circle cx="347.9" cy="244.3" r="2.75"/>
<circle cx="86.0" cy="278.6" r="2.75"/>
<circle cx="365.0" cy="275.7" r="2.75"/>
<circle cx="96.6" cy="272.0" r="2.75"/>
<circle cx="234.1" cy="271.0" r="2.75"/>
<circle cx="386.4" cy="278.6" r="2.75"/>
<circle cx="286.3" cy="274.8" r="2.75"/>
<circle cx="69.6" cy="271.4" r="2.75"/>
<circle cx="462.7" cy="237.8" r="2.75"/>
<circle cx="327.1" cy="281.4" r="2.75"/>
<circle cx="278.4" cy="287.9" r="2.75"/>
<circle cx="185.7" cy="283.6" r="2.75"/>
<circle cx="401.4" cy="258.0" r="2.75"/>
<circle cx="70.3" cy="268.9" r="2.75"/>
<circle cx="340.0" cy="285.7" r="2.75"/>
<circle cx="174.3" cy="277.9" r="2.75"/>
<circle cx="449.6" cy="238.5" r="2.75"/>
<circle cx="88.9" cy="282.1" r="2.75"/>
<circle cx="126.1" cy="253.6" r="2.75"/>
<circle cx="387.8" cy="238.5" r="2.75"/>
<circle cx="296.6" cy="272.9" r="2.75"/>
<circle cx="325.7" cy="276.4" r="2.75"/>
<circle cx="380.7" cy="247.9" r="2.75"/>
<circle cx="190.7" cy="256.2" r="2.75"/>
<circle cx="70.2" cy="279.7" r="2.75"/>
<circle cx="102.6" cy="280.7" r="2.75"/>
<circle cx="399.1" cy="281.1" r="2.75"/>
<circle cx="335.7" cy="274.3" r="2.75"/>
<circle cx="105.4" cy="240.7" r="2.75"/>
<circle cx="222.0" cy="266.2" r="2.75"/>
<circle cx="114.2" cy="248.2" r="2.75"/>
<circle cx="51.0" cy="246.0" r="2.75"/>
<circle cx="376.1" cy="280.1" r="2.75"/>
<circle cx="142.1" cy="273.6" r="2.75"/>
<circle cx="403.4" cy="253.1" r="2.75"/>
<circle cx="322.1" cy="250.7" r="2.75"/>
<circle cx="345.7" cy="287.1" r="2.75"/>
<circle cx="365.7" cy="243.6" r="2.75"/>
<circle cx="305.0" cy="284.3" r="2.75"/>
<circle cx="391.9" cy="279.1" r="2.75"/>
<circle cx="76.0" cy="273.6" r="2.75"/>
<circle cx="393.6" cy="287.3" r="2.75"/>
<circle cx="453.7" cy="280.3" r="2.75"/>
<circle cx="282.0" cy="283.1" r="2.75"/>
<circle cx="160.0" cy="288.6" r="2.75"/>
<circle cx="187.1" cy="287.9" r="2.75"/>
<circle cx="257.6" cy="274.9" r="2.75"/>
<circle cx="151.4" cy="270.0" r="2.75"/>
<circle cx="129.1" cy="248.7" r="2.75"/>
<circle cx="138.3" cy="270.0" r="2.75"/>
<circle cx="291.4" cy="276.2" r="2.75"/>
<circle cx="381.7" cy="269.3" r="2.75"/>
<circle cx="392.7" cy="261.9" r="2.75"/>
<circle cx="388.4" cy="277.0" r="2.75"/>
<circle cx="157.1" cy="286.4" r="2.75"/>
<circle cx="94.6" cy="285.7" r="2.75"/>
<circle cx="347.5" cy="287.8" r="2.75"/>
<circle cx="55.3" cy="285.7" r="2.75"/>
<circle cx="373.6" cy="280.7" r="2.75"/>
<circle cx="99.7" cy="289.3" r="2.75"/>
<circle cx="52.6" cy="285.1" r="2.75"/>
<circle cx="73.9" cy="268.6" r="2.75"/>
<circle cx="192.8" cy="265.4" r="2.75"/>
<circle cx="63.1" cy="283.6" r="2.75"/>
<circle cx="387.9" cy="262.9" r="2.75"/>
<circle cx="122.6" cy="289.3" r="2.75"/>
<circle cx="56.7" cy="288.1" r="2.75"/>
<circle cx="73.9" cy="283.6" r="2.75"/>
<circle cx="302.5" cy="282.8" r="2.75"/>
<circle cx="383.6" cy="282.9" r="2.75"/>
<circle cx="466.3" cy="272.2" r="2.75"/>
<circle cx="436.5" cy="277.1" r="2.75"/>
<circle cx="169.3" cy="287.1" r="2.75"/>
<circle cx="88.3" cy="285.1" r="2.75"/>
<circle cx="375.3" cy="286.7" r="2.75"/>
<circle cx="98.0" cy="270.4" r="2.75"/>
<circle cx="119.0" cy="273.6" r="2.75"/>
<circle cx="269.9" cy="275.5" r="2.75"/>
<circle cx="227.6" cy="286.6" r="2.75"/>
<circle cx="202.7" cy="268.0" r="2.75"/>
<circle cx="383.9" cy="278.5" r="2.75"/>
<circle cx="192.8" cy="286.2" r="2.75"/>
<circle cx="457.2" cy="285.4" r="2.75"/>
<circle cx="281.0" cy="277.5" r="2.75"/>
<circle cx="165.8" cy="266.4" r="2.75"/>
<circle cx="437.7" cy="278.9" r="2.75"/>
<circle cx="179.8" cy="252.3" r="2.75"/>
<circle cx="57.5" cy="275.5" r="2.75"/>
<circle cx="459.5" cy="283.6" r="2.75"/>
<circle cx="350.2" cy="280.3" r="2.75"/>
<circle cx="258.2" cy="266.4" r="2.75"/>
<circle cx="76.7" cy="253.6" r="2.75"/>
<circle cx="185.7" cy="275.7" r="2.75"/>
<circle cx="379.3" cy="267.9" r="2.75"/>
<circle cx="323.3" cy="275.3" r="2.75"/>
<circle cx="321.4" cy="282.1" r="2.75"/>
<circle cx="426.6" cy="274.9" r="2.75"/>
<circle cx="386.0" cy="270.3" r="2.75"/>
<circle cx="311.4" cy="266.4" r="2.75"/>
<circle cx="310.1" cy="279.3" r="2.75"/>
<circle cx="87.4" cy="275.0" r="2.75"/>
<circle cx="422.1" cy="279.4" r="2.75"/>
<circle cx="173.0" cy="283.1" r="2.75"/>
<circle cx="328.6" cy="287.1" r="2.75"/>
<circle cx="377.9" cy="286.4" r="2.75"/>
<circle cx="304.9" cy="288.7" r="2.75"/>
<circle cx="178.2" cy="286.2" r="2.75"/>
<circle cx="225.0" cy="280.7" r="2.75"/>
<circle cx="127.6" cy="242.9" r="2.75"/>
<circle cx="355.7" cy="287.1" r="2.75"/>
<circle cx="274.8" cy="281.6" r="2.75"/>
<circle cx="351.3" cy="276.2" r="2.75"/>
<circle cx="455.3" cy="281.0" r="2.75"/>
<circle cx="188.6" cy="282.9" r="2.75"/>
<circle cx="60.3" cy="269.3" r="2.75"/>
<circle cx="67.4" cy="284.3" r="2.75"/>
<circle cx="286.2" cy="272.3" r="2.75"/>
<circle cx="277.9" cy="281.1" r="2.75"/>
<circle cx="345.2" cy="283.6" r="2.75"/>
<circle cx="349.3" cy="282.9" r="2.75"/>
<circle cx="54.6" cy="272.9" r="2.75"/>
<circle cx="247.1" cy="269.0" r="2.75"/>
<circle cx="83.8" cy="275.5" r="2.75"/>
<circle cx="208.4" cy="286.2" r="2.75"/>
<circle cx="70.6" cy="268.7" r="2.75"/>
<circle cx="422.6" cy="261.8" r="2.75"/>
<circle cx="258.8" cy="263.2" r="2.75"/>
<circle cx="449.7" cy="282.3" r="2.75"/>
<circle cx="274.5" cy="284.0" r="2.75"/>
<circle cx="216.2" cy="267.1" r="2.75"/>
<circle cx="397.5" cy="282.4" r="2.75"/>
<circle cx="286.2" cy="266.4" r="2.75"/>
<circle cx="56.5" cy="273.6" r="2.75"/>
<circle cx="75.3" cy="258.6" r="2.75"/>
<circle cx="422.3" cy="284.7" r="2.75"/>
<circle cx="67.8" cy="286.7" r="2.75"/>
<circle cx="459.6" cy="280.6" r="2.75"/>
<circle cx="206.3" cy="271.6" r="2.75"/>
<circle cx="247.1" cy="282.7" r="2.75"/>
<circle cx="350.7" cy="263.6" r="2.75"/>
<circle cx="181.4" cy="282.1" r="2.75"/>
<circle cx="78.9" cy="283.6" r="2.75"/>
<circle cx="71.2" cy="268.4" r="2.75"/>
<circle cx="282.9" cy="268.4" r="2.75"/>
<circle cx="117.3" cy="232.1" r="2.75"/>
<circle cx="111.1" cy="261.4" r="2.75"/>
<circle cx="133.3" cy="270.0" r="2.75"/>
<circle cx="395.2" cy="282.2" r="2.75"/>
<circle cx="315.7" cy="283.2" r="2.75"/>
<circle cx="390.7" cy="247.3" r="2.75"/>
<circle cx="278.5" cy="278.9" r="2.75"/>
<circle cx="75.4" cy="270.1" r="2.75"/>
<circle cx="227.6" cy="276.2" r="2.75"/>
<circle cx="283.5" cy="272.4" r="2.75"/>
<circle cx="126.1" cy="282.9" r="2.75"/>
<circle cx="303.7" cy="264.5" r="2.75"/>
<circle cx="387.3" cy="269.4" r="2.75"/>
<circle cx="298.5" cy="279.0" r="2.75"/>
<circle cx="72.4" cy="277.9" r="2.75"/>
<circle cx="84.2" cy="277.5" r="2.75"/>
<circle cx="200.1" cy="286.2" r="2.75"/>
<circle cx="112.6" cy="280.7" r="2.75"/>
<circle cx="432.1" cy="272.7" r="2.75"/>
<circle cx="55.0" cy="233.5" r="2.75"/>
<circle cx="80.3" cy="277.1" r="2.75"/>
<circle cx="382.3" cy="271.6" r="2.75"/>
<circle cx="86.6" cy="272.6" r="2.75"/>
<circle cx="115.4" cy="251.4" r="2.75"/>
<circle cx="397.5" cy="275.6" r="2.75"/>
</g>
<g fill="#9fb0b0" stroke="#34444c" stroke-width="1.0">
<circle cx="93.1" cy="265.0" r="2.75"/>
<circle cx="94.7" cy="265.4" r="2.75"/>
<circle cx="115.7" cy="262.6" r="2.75"/>
<circle cx="113.3" cy="268.6" r="2.75"/>
<circle cx="247.7" cy="247.6" r="2.75"/>
<circle cx="252.0" cy="170.3" r="2.75"/>
<circle cx="256.5" cy="176.2" r="2.75"/>
<circle cx="247.9" cy="205.4" r="2.75"/>
</g>
<g fill="#98ecff" stroke="#2a5a70" stroke-width="1.0">
<circle cx="192.7" cy="237.5" r="2.75"/>
<circle cx="180.2" cy="241.7" r="2.75"/>
<circle cx="191.5" cy="242.1" r="2.75"/>
<circle cx="181.4" cy="245.6" r="2.75"/>
<circle cx="184.5" cy="246.0" r="2.75"/>
<circle cx="191.1" cy="245.2" r="2.75"/>
<circle cx="187.6" cy="248.4" r="2.75"/>
<circle cx="182.9" cy="255.4" r="2.75"/>
<circle cx="185.2" cy="257.3" r="2.75"/>
<circle cx="188.4" cy="256.9" r="2.75"/>
<circle cx="188.6" cy="257.6" r="2.75"/>
<circle cx="185.5" cy="259.2" r="2.75"/>
<circle cx="207.3" cy="258.6" r="2.75"/>
<circle cx="212.5" cy="259.7" r="2.75"/>
<circle cx="211.5" cy="262.3" r="2.75"/>
<circle cx="180.3" cy="267.0" r="2.75"/>
<circle cx="182.9" cy="270.6" r="2.75"/>
<circle cx="190.7" cy="269.6" r="2.75"/>
<circle cx="197.0" cy="269.0" r="2.75"/>
<circle cx="198.0" cy="274.2" r="2.75"/>
<circle cx="176.7" cy="273.2" r="2.75"/>
<circle cx="178.2" cy="274.8" r="2.75"/>
<circle cx="176.7" cy="280.0" r="2.75"/>
<circle cx="273.2" cy="247.0" r="2.75"/>
<circle cx="276.4" cy="249.5" r="2.75"/>
<circle cx="271.6" cy="241.8" r="2.75"/>
<circle cx="275.8" cy="243.3" r="2.75"/>
<circle cx="272.1" cy="247.5" r="2.75"/>
<circle cx="274.2" cy="248.0" r="2.75"/>
<circle cx="276.3" cy="250.1" r="2.75"/>
<circle cx="273.7" cy="245.4" r="2.75"/>
<circle cx="275.3" cy="259.4" r="2.75"/>
<circle cx="266.7" cy="276.8" r="2.75"/>
<circle cx="268.0" cy="287.9" r="2.75"/>
<circle cx="249.1" cy="152.0" r="2.75"/>
<circle cx="247.9" cy="165.0" r="2.75"/>
<circle cx="251.4" cy="180.3" r="2.75"/>
<circle cx="251.8" cy="182.6" r="2.75"/>
<circle cx="256.1" cy="182.3" r="2.75"/>
<circle cx="249.7" cy="194.6" r="2.75"/>
</g>
<g fill="#66ff00" stroke="#2a6a00" stroke-width="1.0">
<circle cx="259.4" cy="283.3" r="2.75"/>
<circle cx="263.8" cy="239.2" r="2.75"/>
<circle cx="270.6" cy="256.3" r="2.75"/>
<circle cx="269.0" cy="258.9" r="2.75"/>
<circle cx="270.6" cy="261.8" r="2.75"/>
<circle cx="248.7" cy="139.3" r="2.75"/>
<circle cx="252.0" cy="152.2" r="2.75"/>
<circle cx="259.6" cy="151.0" r="2.75"/>
<circle cx="251.8" cy="160.6" r="2.75"/>
<circle cx="254.9" cy="162.5" r="2.75"/>
<circle cx="260.4" cy="161.5" r="2.75"/>
<circle cx="247.1" cy="168.8" r="2.75"/>
<circle cx="253.2" cy="167.1" r="2.75"/>
<circle cx="255.8" cy="167.6" r="2.75"/>
</g>
<g fill="#ff8f00" stroke="#6a3a00" stroke-width="1.0">
<circle cx="257.2" cy="108.7" r="2.75"/>
<circle cx="259.0" cy="117.3" r="2.75"/>
<circle cx="260.1" cy="125.5" r="2.75"/>
<circle cx="260.0" cy="214.5" r="2.75"/>
</g>
<path d="M258.4 92.3 L261.9 95.9 L258.4 99.5 L254.9 95.9 Z" fill="#5b3cff" stroke="#2a1a80" stroke-width="0.6"/>
<text x="226.2" y="88.2" font-size="12.2" textLength="61.3" lengthAdjust="spacingAndGlyphs">rs11686168</text>
</g>
</g>

<!-- frame -->
<rect x="46.1" y="13.2" width="422.3" height="287.7" fill="none" stroke="#000" stroke-width="1.6"/>
<!-- gene track -->
<rect x="46.1" y="312.1" width="422.3" height="21.9" fill="none" stroke="#000" stroke-width="1.6"/>

<!-- legend -->
<rect x="421.6" y="18.5" width="39.9" height="85" fill="#fff" stroke="#000" stroke-width="1"/>
<text x="439.1" y="29.5" font-size="10">r<tspan font-size="7.2" dy="-3.8">2</tspan></text>
<g stroke="#333" stroke-width="0.6">
<rect x="426.6" y="33.4" width="9" height="13" fill="#ff0000"/>
<rect x="426.6" y="46.4" width="9" height="13" fill="#ff9500"/>
<rect x="426.6" y="59.4" width="9" height="13.1" fill="#55ee11"/>
<rect x="426.6" y="72.5" width="9" height="13.2" fill="#a5ebfa"/>
<rect x="426.6" y="85.7" width="9" height="13.5" fill="#0a0a9a"/>
</g>
<g stroke="#000" stroke-width="1">
<line x1="435.6" y1="46.4" x2="439.8" y2="46.4"/>
<line x1="435.6" y1="59.4" x2="439.8" y2="59.4"/>
<line x1="435.6" y1="72.5" x2="439.8" y2="72.5"/>
<line x1="435.6" y1="85.7" x2="439.8" y2="85.7"/>
</g>
<g font-size="12" transform="translate(442,0) scale(0.93,1)">
<text x="0" y="49.8">0.8</text>
<text x="0" y="62.8">0.6</text>
<text x="0" y="75.9">0.4</text>
<text x="0" y="89.1">0.2</text>
</g>

<!-- genes -->
<g font-size="10.5" font-style="italic" stroke="#111" stroke-width="0.2">
<text x="226.9" y="322.9" textLength="46.6" lengthAdjust="spacingAndGlyphs">CDC42EP3</text>
<text x="419.3" y="322.9" textLength="47" lengthAdjust="spacingAndGlyphs">LINC00211</text>
</g>
<g stroke="#222" stroke-width="0.9" fill="none">
<path d="M224.7 320.3 H217.5 M218.9 317.7 L216.6 320.3 L218.9 322.9"/>
<path d="M416.9 320.3 H409.9 M411.3 317.7 L409 320.3 L411.3 322.9"/>
</g>
<g fill="#111">
<path d="M216 320.3 L219.2 318.2 L218.4 320.3 L219.2 322.4 Z"/>
<path d="M408.4 320.3 L411.6 318.2 L410.8 320.3 L411.6 322.4 Z"/>
</g>
<g stroke="#6c6cd8" stroke-width="1.8">
<line x1="228" y1="329.2" x2="260" y2="329.2"/>
<line x1="423" y1="329.2" x2="467.6" y2="329.2"/>
</g>
<g fill="#0606b4">
<rect x="227.1" y="327.8" width="6.5" height="3" rx="0.6"/>
<rect x="257.9" y="327.8" width="3" height="3" rx="1"/>
<rect x="422.5" y="327.8" width="1.6" height="3.2"/>
<rect x="425" y="327.8" width="2.1" height="3.2"/>
<rect x="463" y="327.9" width="2" height="2.6" rx="0.8"/>
</g>
</svg>
</body></html>
